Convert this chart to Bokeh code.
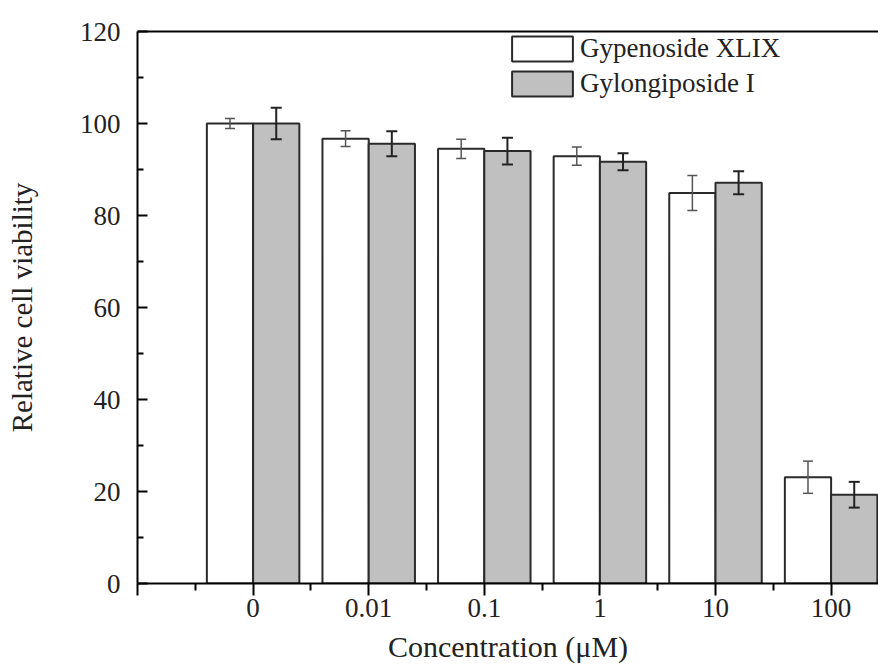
import numpy as np
from bokeh.plotting import figure
from bokeh.models import (ColumnDataSource, FixedTicker, LinearAxis, Range1d,
                          Whisker, TeeHead, Legend, LegendItem)
from bokeh.embed import file_html
from bokeh.resources import INLINE

categories = ["0", "0.01", "0.1", "1", "10", "100"]
xlix_mean = [100.0, 96.7, 94.5, 92.9, 84.9, 23.1]
xlix_err = [1.1, 1.7, 2.1, 2.0, 3.8, 3.5]
gyl_mean = [100.0, 95.6, 94.0, 91.7, 87.1, 19.3]
gyl_err = [3.4, 2.7, 2.9, 1.85, 2.5, 2.8]
series_names = ["Gypenoside XLIX", "Gylongiposide I"]
y_ticks = [0, 20, 40, 60, 80, 100, 120]
x_title = "Concentration (\u03bcM)"
y_title = "Relative cell viability"

FONT = "Liberation Serif"
idx = np.arange(len(categories))
bar_w = 0.4

src_a = ColumnDataSource(dict(x=idx - bar_w / 2, top=xlix_mean,
                              upper=np.array(xlix_mean) + np.array(xlix_err),
                              lower=np.array(xlix_mean) - np.array(xlix_err)))
src_b = ColumnDataSource(dict(x=idx + bar_w / 2, top=gyl_mean,
                              upper=np.array(gyl_mean) + np.array(gyl_err),
                              lower=np.array(gyl_mean) - np.array(gyl_err)))

p = figure(width=878, height=669, output_backend="svg", toolbar_location=None,
           x_range=Range1d(-1, 5.41), y_range=Range1d(0, 120),
           min_border_left=137, min_border_right=0, min_border_top=31,
           min_border_bottom=86, x_axis_location="below")
p.outline_line_color = None
p.xgrid.visible = False
p.ygrid.visible = False
p.background_fill_color = "white"

ra = p.vbar(x="x", top="top", width=bar_w, source=src_a, fill_color="white",
            line_color="#2a2a2a", line_width=2)
rb = p.vbar(x="x", top="top", width=bar_w, source=src_b, fill_color="#c0c0c0",
            line_color="#2a2a2a", line_width=2)

wa = Whisker(base="x", upper="upper", lower="lower", source=src_a,
             line_color="#555555", line_width=1.5, level="overlay",
             upper_head=TeeHead(size=10, line_color="#555555", line_width=1.5),
             lower_head=TeeHead(size=10, line_color="#555555", line_width=1.5))
wb = Whisker(base="x", upper="upper", lower="lower", source=src_b,
             line_color="#222222", line_width=2, level="overlay",
             upper_head=TeeHead(size=11, line_color="#222222", line_width=2),
             lower_head=TeeHead(size=11, line_color="#222222", line_width=2))
p.add_layout(wa)
p.add_layout(wb)

# x axis
xa = p.xaxis[0]
xa.ticker = FixedTicker(ticks=[-1] + list(idx),
                        minor_ticks=[-0.5 + i for i in range(len(categories) + 1)])
overrides = {-1: ""}
overrides.update({int(i): c for i, c in zip(idx, categories)})
xa.major_label_overrides = overrides
xa.axis_label = x_title
xa.axis_line_width = 2
xa.major_tick_in = 0
xa.major_tick_out = 12
xa.minor_tick_in = 0
xa.minor_tick_out = 7
xa.major_tick_line_width = 2
xa.minor_tick_line_width = 2
xa.major_label_text_font = FONT
xa.major_label_text_font_size = "27px"
xa.major_label_text_color = "#222222"
xa.major_label_standoff = 3
xa.axis_label_text_font = FONT
xa.axis_label_text_font_size = "30px"
xa.axis_label_text_font_style = "normal"
xa.axis_label_text_color = "#222222"
xa.axis_label_standoff = 10

# y axis
ya = p.yaxis[0]
ya.ticker = FixedTicker(ticks=y_ticks, minor_ticks=[10, 30, 50, 70, 90, 110])
ya.axis_label = y_title
ya.axis_line_width = 2
ya.major_tick_in = 10
ya.major_tick_out = 0
ya.minor_tick_in = 6
ya.minor_tick_out = 0
ya.major_tick_line_width = 2
ya.minor_tick_line_width = 2
ya.major_label_text_font = FONT
ya.major_label_text_font_size = "27px"
ya.major_label_text_color = "#222222"
ya.major_label_standoff = 17
ya.axis_label_text_font = FONT
ya.axis_label_text_font_size = "29px"
ya.axis_label_text_font_style = "normal"
ya.axis_label_text_color = "#222222"
ya.axis_label_standoff = 39

# top border line
top_axis = LinearAxis(ticker=FixedTicker(ticks=[]), axis_line_width=2,
                      major_tick_line_color=None, minor_tick_line_color=None,
                      major_label_text_font_size="0px")
p.add_layout(top_axis, "above")

legend = Legend(items=[LegendItem(label=series_names[0], renderers=[ra]),
                       LegendItem(label=series_names[1], renderers=[rb])],
                location=(367, 484), orientation="vertical",
                glyph_width=76, glyph_height=31, label_height=31,
                spacing=4, padding=0, margin=0, label_standoff=0,
                label_text_font=FONT, label_text_font_size="27px",
                label_text_color="#222222",
                border_line_color=None, background_fill_alpha=0)
p.add_layout(legend)

open("out.html", "w").write(file_html(p, INLINE))
